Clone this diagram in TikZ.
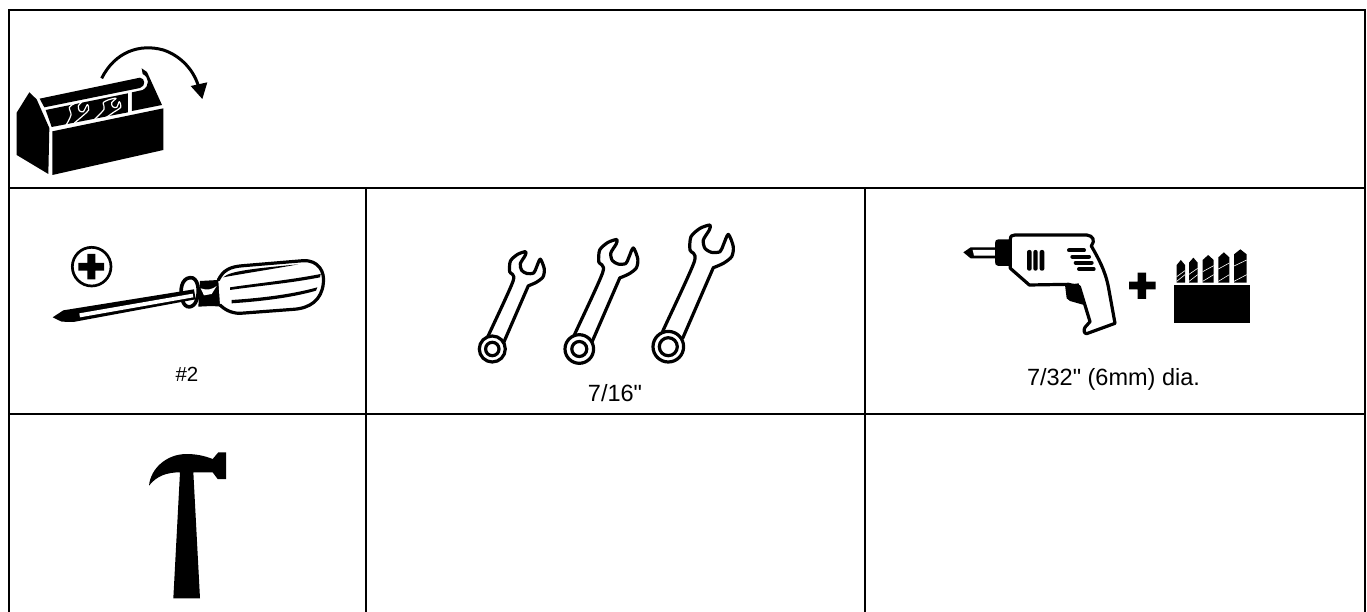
\documentclass[tikz,border=0pt]{standalone}
\usepackage{fontspec}
\setmainfont{Liberation Sans}[Ligatures=TeXOff]
\tikzset{
  gridline/.style={draw=black,line width=2pt},
  label/.style={inner sep=0pt,anchor=base,font=\fontsize{23.5}{27}\selectfont},
  smalllabel/.style={inner sep=0pt,anchor=base,font=\fontsize{20.5}{24}\selectfont},
  ink/.style={fill=black,draw=none},
  outline/.style={draw=black,line width=3.2pt,line join=round,line cap=round},
  thinwhite/.style={draw=white,line width=1.2pt,line cap=round,line join=round},
  zoomed/.style={x=0.33333pt,y=-0.33333pt},
}
\newcommand{\spanner}[5]{%
  \begin{scope}[shift={(#1,#2)},x=#3*0.33333pt,y=-#3*0.33333pt]
    \draw[outline] plot[smooth,tension=0.45] coordinates {(-15,-45) (-15,-50) (78,-255) (65,-290) (68,-330) (95,-355) (125,-365) (123,-350) (105,-320) (110,-295) (130,-283) (155,-285) (165,-305) (180,-337) (195,-300) (190,-270) (165,-250) (135,-237)} -- (43,-25);
  \end{scope}
  \draw[outline,fill=white] (#1,#2) circle (#4pt);
  \draw[outline] (#1,#2) circle (#5pt);
}
\begin{document}
\begin{tikzpicture}[x=1pt,y=-1pt]
\useasboundingbox (0,0) rectangle (1367,612);
% table
\draw[gridline] (9,612) -- (9,9.7) -- (1364.7,9.7) -- (1364.7,612);
\draw[gridline] (9,188) -- (1364.7,188);
\draw[gridline] (9,413.7) -- (1364.7,413.7);
\draw[gridline] (366,188) -- (366,612);
\draw[gridline] (865,188) -- (865,612);

% toolbox
\begin{scope}[shift={(0,0)},zoomed]
  \fill[ink] (50,338) -- (88,277) -- (110,298) -- (148,384) -- (145,522) -- (50,465) -- cycle;
  \fill[ink] (157,394) -- (490,325) -- (490,450) -- (157,525) -- cycle;
  \fill[ink] (119,296) -- (420,233) .. controls (436,235) and (438,258) .. (420,264) -- (133,322) -- cycle;
  \fill[ink] (425,205) -- (441,216) -- (486,315) -- (396,333) -- (396,277) -- (428,270) .. controls (450,258) and (448,232) .. (428,222) -- cycle;
  \fill[ink] (137,330) -- (384,280) -- (384,337) -- (155,381) -- cycle;
  \draw[thinwhite] plot[smooth,tension=0.5] coordinates {(198,376) (213,345) (208,322) (225,310) (245,305) (235,318) (238,332) (250,335) (262,314) (266,330) (250,346) (222,370)};
  \draw[thinwhite] plot[smooth,tension=0.5] coordinates {(280,362) (312,328) (310,308) (330,298) (348,295) (335,308) (338,320) (350,322) (358,305) (362,322) (342,336) (308,360)};
  \draw[draw=black,line width=3pt] (305,235) .. controls (345,155) and (420,130) .. (490,150) .. controls (545,168) and (585,215) .. (597,265);
  \fill[ink] (572,258) -- (622,247) -- (607,297) -- cycle;
\end{scope}

% screwdriver
\begin{scope}[shift={(30,200)},zoomed]
  \draw[draw=black,line width=2.7pt] (185,200) circle (58);
  \fill[ink] (145,189) -- (172,189) -- (172,162) -- (196,162) -- (196,189) -- (222,189) -- (222,212) -- (196,212) -- (196,238) -- (172,238) -- (172,212) -- (145,212) -- cycle;
  \fill[ink] (510,243) -- (565,240) -- (575,320) -- (545,318) -- (505,320) -- cycle;
  \fill[white] (512,265) .. controls (530,272) and (548,268) .. (560,258) -- (545,282) -- (522,286) -- cycle;
  \draw[outline,line width=3.6pt,fill=white] (480,233) .. controls (505,230) and (510,275) .. (500,300) .. controls (492,325) and (465,330) .. (457,300) .. controls (448,270) and (455,235) .. (480,233) -- cycle;
  \fill[ink] (68,352) -- (100,331) -- (492,268) -- (497,298) -- (130,366) -- (95,365) -- cycle;
  \fill[white] (148,340) -- (488,281) -- (490,292) -- (150,352) -- cycle;
  \draw[outline,fill=white] (565,240) .. controls (580,210) and (600,200) .. (640,197) -- (820,182) .. controls (865,180) and (885,215) .. (880,250) .. controls (875,300) and (840,325) .. (790,328) -- (630,340) .. controls (600,340) and (580,325) .. (570,315);
  \fill[ink] (580,232) .. controls (600,212) and (680,205) .. (805,193) .. controls (700,212) and (620,224) .. (580,232) -- cycle;
  \fill[ink] (600,262) .. controls (680,250) and (780,240) .. (872,222) -- (870,232) .. controls (780,250) and (680,258) .. (600,270) -- cycle;
  \fill[ink] (605,300) .. controls (680,295) and (780,285) .. (862,262) -- (858,272) .. controls (780,295) and (680,305) .. (605,310) -- cycle;
\end{scope}

% spanners
\spanner{492.3}{349}{0.8}{13}{6.7}
\spanner{579.3}{349}{0.9}{14.3}{7.5}
\spanner{668.3}{346.7}{1}{15.3}{9}

% drill
\begin{scope}[shift={(950,190)},zoomed]
  \fill[ink] (40,187) -- (62,172) -- (135,172) -- (135,205) -- (62,205) -- cycle;
  \fill[white] (68,180) -- (135,180) -- (135,197) -- (72,197) -- cycle;
  \fill[ink] (145,148) -- (180,148) -- (180,228) -- (145,228) .. controls (137,228) and (135,222) .. (135,215) -- (135,160) .. controls (135,152) and (138,148) .. (145,148) -- cycle;
  \draw[outline,fill=white] (181,148) .. controls (181,138) and (186,135) .. (195,135) -- (410,135) .. controls (430,137) and (436,152) .. (424,168) .. controls (445,205) and (465,240) .. (475,290) -- (495,400) -- (410,431) .. controls (402,431) and (400,420) .. (405,412) -- (420,395) -- (388,290) -- (355,283) -- (238,285) -- (181,235) -- cycle;
  \fill[ink] (345,285) -- (386,280) -- (402,345) -- (360,333) -- (350,325) -- cycle;
  \fill[ink,rounded corners=2pt] (231,180) rectangle (245,242);
  \fill[ink,rounded corners=2pt] (250,180) rectangle (263,242);
  \fill[ink,rounded corners=2pt] (269,180) rectangle (283,242);
  \draw[draw=black,line width=4pt,line cap=round] (357,181) -- (402,181);
  \draw[draw=black,line width=4pt,line cap=round] (367,200) -- (417,200);
  \draw[draw=black,line width=4pt,line cap=round] (377,218) -- (425,218);
  \draw[draw=black,line width=4pt,line cap=round] (387,237) -- (431,237);
  \fill[ink] (537,275) -- (563,275) -- (563,248) -- (588,248) -- (588,275) -- (617,275) -- (617,298) -- (588,298) -- (588,327) -- (563,327) -- (563,298) -- (537,298) -- cycle;
  \fill[ink] (672,285) rectangle (900,398);
  \foreach \xa/\xb/\yt in {680/705/210,717/743/203,758/791/195,805/838/187,852/890/178}{
    \fill[ink] (\xa,\yt+15) -- ({(\xa+\xb)/2},\yt) -- (\xb,\yt+15) -- (\xb,278) -- (\xa,278) -- cycle;
    \draw[draw=white,line width=0.6pt] (\xa,\yt+50) -- (\xb,\yt+32);
    \draw[draw=white,line width=0.6pt] (\xa,274) -- (\xb,254);
  }
\end{scope}

% hammer
\begin{scope}[shift={(130,410)},zoomed]
  \fill[ink] (57,227) .. controls (62,175) and (110,132) .. (170,132) .. controls (200,132) and (225,138) .. (248,147) -- (265,127) -- (288,127) -- (288,207) -- (263,207) -- (248,187) -- (190,187) -- (210,565) -- (130,565) -- (150,187) .. controls (110,187) and (80,198) .. (57,227) -- cycle;
\end{scope}

% labels
\node[smalllabel] (driverlabel) at (187,381) {\#2};
\node[label] (spannerlabel) at (615,401) {7/16"};
\node[label] (drilllabel) at (1113.5,385) {7/32" (6mm) dia.};
\end{tikzpicture}
\end{document}
